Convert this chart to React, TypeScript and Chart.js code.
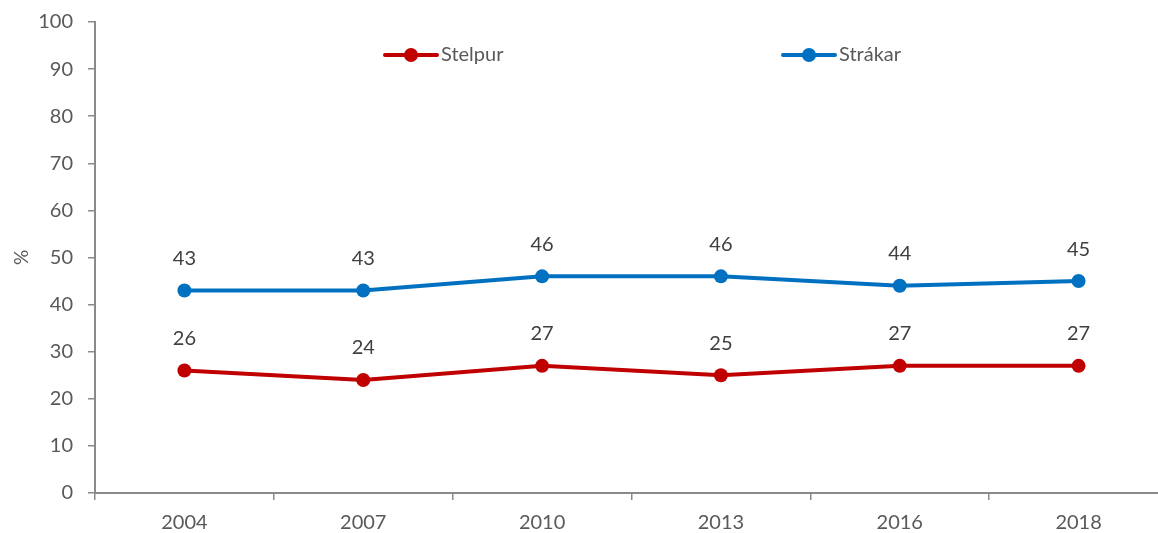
import React, { useEffect, useRef } from "react";
import { Chart, registerables } from "chart.js";

Chart.register(...registerables);

const years = ["2004", "2007", "2010", "2013", "2016", "2018"];
const stelpur = [26, 24, 27, 25, 27, 27];
const strakar = [43, 43, 46, 46, 44, 45];
const seriesNames = ["Stelpur", "Strákar"];
const seriesColors = ["#C00000", "#0070C0"];

const FONT = "Lato, Carlito, Calibri, 'Noto Sans', sans-serif";
const AXIS_COLOR = "#8a8a8a";

const labelPlugin = {
  id: "pointLabels",
  afterDatasetsDraw(chart: any) {
    const ctx = chart.ctx;
    ctx.save();
    ctx.font = `20px ${FONT}`;
    ctx.fillStyle = "#404040";
    ctx.textAlign = "center";
    ctx.textBaseline = "middle";
    chart.data.datasets.forEach((ds: any, i: number) => {
      const meta = chart.getDatasetMeta(i);
      meta.data.forEach((pt: any, j: number) => {
        ctx.fillText(String(ds.data[j]), pt.x, pt.y - 32);
      });
    });
    ctx.restore();
  },
};

const legendPlugin = {
  id: "customLegend",
  afterDraw(chart: any) {
    const ctx = chart.ctx;
    const starts = [385, 783];
    const y = 55;
    ctx.save();
    chart.data.datasets.forEach((ds: any, i: number) => {
      const x0 = starts[i];
      ctx.strokeStyle = ds.borderColor;
      ctx.lineWidth = 4;
      ctx.lineCap = "round";
      ctx.beginPath();
      ctx.moveTo(x0, y);
      ctx.lineTo(x0 + 52, y);
      ctx.stroke();
      ctx.fillStyle = ds.borderColor;
      ctx.beginPath();
      ctx.arc(x0 + 26, y, 7, 0, Math.PI * 2);
      ctx.fill();
      ctx.font = `20px ${FONT}`;
      ctx.fillStyle = "#595959";
      ctx.textAlign = "left";
      ctx.textBaseline = "middle";
      ctx.fillText(ds.label, x0 + 56, y);
    });
    ctx.restore();
  },
};

export default function App() {
  const ref = useRef<HTMLCanvasElement>(null);
  useEffect(() => {
    if (!ref.current) return;
    const chart = new Chart(ref.current, {
      type: "line",
      data: {
        labels: years,
        datasets: [stelpur, strakar].map((d, i) => ({
          label: seriesNames[i],
          data: d,
          borderColor: seriesColors[i],
          backgroundColor: seriesColors[i],
          borderWidth: 4,
          pointRadius: 7,
          pointHoverRadius: 7,
          pointBorderWidth: 0,
          tension: 0,
        })),
      },
      plugins: [labelPlugin, legendPlugin],
      options: {
        responsive: false,
        animation: false,
        layout: { padding: { top: 22, left: 0, right: 0, bottom: 0 } },
        plugins: {
          legend: { display: false },
          tooltip: { enabled: false },
        },
        scales: {
          x: {
            offset: true,
            grid: {
              offset: true,
              display: true,
              drawOnChartArea: false,
              drawTicks: true,
              tickLength: 7,
              color: AXIS_COLOR,
              lineWidth: 1.5,
            },
            border: { display: true, color: AXIS_COLOR, width: 2 },
            ticks: {
              color: "#595959",
              font: { family: FONT, size: 20 },
              padding: 11,
              maxRotation: 0,
            },
            afterFit(scale: any) {
              scale.height = 40;
            },
          },
          y: {
            min: 0,
            max: 100,
            grid: {
              display: true,
              drawOnChartArea: false,
              drawTicks: true,
              tickLength: 7,
              color: AXIS_COLOR,
              lineWidth: 1.5,
            },
            border: { display: true, color: AXIS_COLOR, width: 2 },
            ticks: {
              stepSize: 10,
              color: "#595959",
              font: { family: FONT, size: 20 },
              padding: 15,
            },
            title: {
              display: true,
              text: "%",
              color: "#595959",
              font: { family: FONT, size: 19 },
              padding: { top: 10, bottom: 0 },
            },
            afterFit(scale: any) {
              scale.width = 95;
              scale.paddingTop = 0;
              scale.paddingBottom = 0;
            },
          },
        },
      },
    });
    return () => chart.destroy();
  }, []);
  return (
    <div
      style={{
        position: "absolute",
        left: 0,
        top: 0,
        width: 1158,
        height: 533,
        overflow: "hidden",
        background: "#fff",
      }}
    >
      <canvas
        ref={ref}
        width={1175}
        height={533}
        style={{ width: 1175, height: 533, display: "block" }}
      />
    </div>
  );
}
